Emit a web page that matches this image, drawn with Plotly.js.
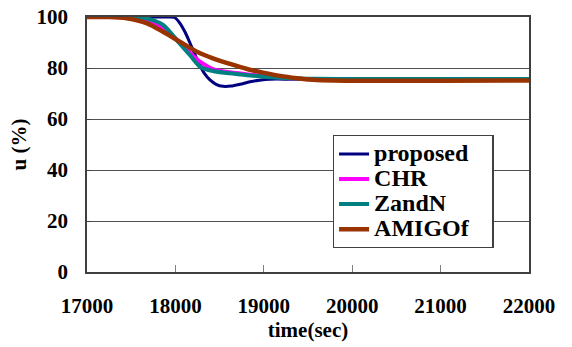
<!DOCTYPE html>
<html>
<head>
<meta charset="utf-8">
<script src="https://cdn.plot.ly/plotly-3.0.1.min.js"></script>
<style>html,body{margin:0;padding:0;background:#fff;}#chart{width:572px;height:347px;}#note{font:10px monospace;color:#fff;height:12px;}</style>
</head>
<body>
<div id="chart"></div>
<div id="note">&nbsp;</div>
<script>
// time (sec) and u (%)
var proposedT = [17000, 17500, 17900, 17990, 18050, 18110, 18165, 18220, 18278, 18330, 18391, 18460, 18540, 18630, 18730, 18844, 18950, 19070, 19300, 19600, 20000, 21000, 22000];
var proposedU = [100, 100, 100, 99.8, 97.6, 94, 89.8, 85.3, 81, 77.8, 75.3, 73.6, 72.8, 72.9, 73.6, 74.6, 75.2, 75.6, 75.6, 75.5, 75.4, 75.4, 75.4];

var chrT = [17000, 17300, 17450, 17680, 17860, 18050, 18165, 18278, 18425, 18618, 18810, 18990, 19183, 19400, 19600, 20000, 21000, 22000];
var chrU = [100, 100, 99.7, 98.8, 95.8, 90, 86, 82.5, 79.6, 78.3, 77.5, 76.9, 76.3, 75.8, 75.5, 75.3, 75.3, 75.3];

var zandnT = [17000, 17400, 17550, 17680, 17860, 18050, 18165, 18278, 18425, 18618, 18810, 18990, 19183, 19376, 19600, 20000, 21000, 22000];
var zandnU = [100, 100, 99.9, 99.4, 96.9, 89.5, 85, 80.5, 78.8, 77.9, 77.2, 76.6, 76.2, 75.9, 75.8, 75.7, 75.7, 75.7];

var amigoT = [17000, 17250, 17450, 17680, 17860, 18050, 18244, 18425, 18618, 18810, 18990, 19183, 19376, 19556, 19800, 20200, 21000, 22000];
var amigoU = [100, 100, 99.5, 97.5, 94.2, 90.3, 86.4, 83.8, 81.6, 79.6, 78.2, 76.9, 76, 75.4, 75.1, 75, 75, 75.1];

var seriesNames = ['proposed', 'CHR', 'ZandN', 'AMIGOf'];
var xTicks = [17000, 18000, 19000, 20000, 21000, 22000];
var yTicks = [0, 20, 40, 60, 80, 100];

var FONT = 'Liberation Serif';
function tr(x, y, name, color, w) {
  return {x: x, y: y, name: '<span style="font-size:24px">' + name + '\u00a0\u00a0\u00a0</span>', type: 'scatter', mode: 'lines',
          line: {color: color, width: w, shape: 'spline', smoothing: 0.8}};
}
var traces = [
  tr(proposedT, proposedU, seriesNames[0], '#000080', 3),
  tr(chrT, chrU, seriesNames[1], '#FF00FF', 4),
  tr(zandnT, zandnU, seriesNames[2], '#008080', 4),
  tr(amigoT, amigoU, seriesNames[3], '#993300', 4.5)
];
var layout = {
  width: 572, height: 347,
  margin: {l: 87, r: 43, t: 17, b: 75},
  paper_bgcolor: '#fff', plot_bgcolor: '#fff',
  font: {family: FONT, size: 21, color: '#000', weight: 'bold'},
  showlegend: true,
  legend: {x: 0.556, y: 0.537, xanchor: 'left', yanchor: 'top',
           bgcolor: '#fff', bordercolor: '#404040', borderwidth: 1.3,
           font: {family: FONT, size: 17, color: '#000', weight: 'bold'},
           itemwidth: 30, tracegroupgap: 0},
  xaxis: {range: [17000, 22000], tickvals: xTicks, ticktext: xTicks.map(String),
          ticks: 'inside', ticklen: 7, tickcolor: '#808080', tickwidth: 1,
          showgrid: false, zeroline: false, showline: true, linecolor: '#404040', linewidth: 1.5,
          mirror: true, ticklabelstandoff: 14,
          tickfont: {family: FONT, size: 21, weight: 'bold', color: '#000'},
          title: {text: 'time(sec)', font: {family: FONT, size: 21, weight: 'bold', color: '#000'}, standoff: 4}},
  yaxis: {range: [0, 100], tickvals: yTicks, ticktext: yTicks.map(String),
          ticks: 'inside', ticklen: 4, tickcolor: '#404040',
          showgrid: true, gridcolor: '#505050', gridwidth: 1, zeroline: false,
          showline: true, linecolor: '#404040', linewidth: 1.5, mirror: true,
          ticklabelstandoff: 13,
          tickfont: {family: FONT, size: 21, weight: 'bold', color: '#000'},
          title: {text: 'u (%)', font: {family: FONT, size: 21, weight: 'bold', color: '#000'}, standoff: 4}}
};
Plotly.newPlot('chart', traces, layout, {displayModeBar: false}).then(function () {
  document.getElementById('note').setAttribute('data-ready', '1');
});
</script>
</body>
</html>
